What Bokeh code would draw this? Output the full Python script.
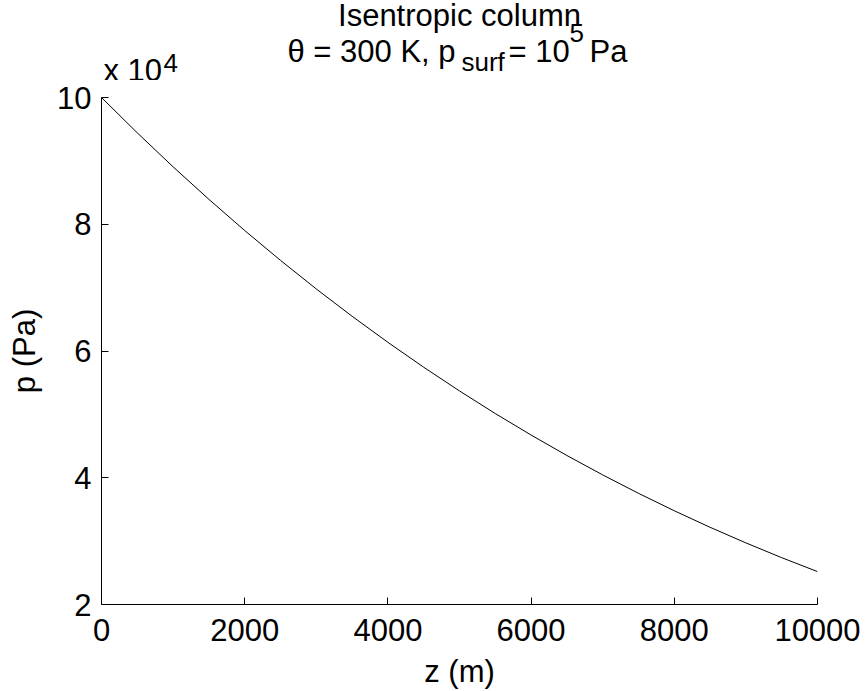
from bokeh.plotting import figure
from bokeh.models import Range1d, FixedTicker
from bokeh.layouts import column
from bokeh.core.properties import value
from bokeh.embed import file_html
from bokeh.resources import INLINE

# Data (height z in m, pressure p in Pa)
z_m = [0, 500, 1000, 1500, 2000, 2500, 3000, 3500, 4000, 4500, 5000,
       5500, 6000, 6500, 7000, 7500, 8000, 8500, 9000, 9500, 10000]
p_pa = [100000, 94420, 89060, 83930, 79010, 74300, 69790, 65480, 61370, 57440, 53700,
        50130, 46740, 43510, 40450, 37540, 34790, 32180, 29720, 27390, 25190]

x_ticks = [0, 2000, 4000, 6000, 8000, 10000]
y_ticks = [20000, 40000, 60000, 80000, 100000]
y_tick_labels = ["2", "4", "6", "8", "10"]

title_line1 = ["Isentropic column"]
title_main = ["\u03b8 = 300 K, p", "= 10", "Pa", "x 10"]
title_small = ["surf", "5", "4"]

FONT = "Liberation Sans"
FS = "31px"
FS_SMALL = "26px"

W = 867
TH = 80            # height of the title strip
L, R = 101, 817
FW = R - L
FH = 507

# ---- title strip (text laid out in canvas pixel coordinates) ----
pt = figure(frame_width=FW, frame_height=TH, output_backend="svg", toolbar_location=None,
            x_range=Range1d(L, R), y_range=Range1d(TH, 0),
            x_axis_location=None, y_axis_location=None,
            min_border_left=L, min_border_right=W - R, min_border_top=0, min_border_bottom=0)
pt.outline_line_color = None
pt.grid.visible = False
pt.text(x=[459], y=[15], text=title_line1, text_font=value(FONT), text_font_size=value(FS),
        text_color="black", text_align="center", text_baseline="alphabetic")
pt.text(x=[287, 508, 589, 103], y=[51, 51, 51, 70], text=title_main,
        text_font=value(FONT), text_font_size=value(FS), text_color="black",
        text_align="left", text_baseline="alphabetic")
pt.text(x=[461, 569, 163], y=[61, 32, 62], text=title_small,
        text_font=value(FONT), text_font_size=value(FS_SMALL), text_color="black",
        text_align="left", text_baseline="alphabetic")

# ---- main plot ----
p = figure(frame_width=FW, frame_height=FH, output_backend="svg", toolbar_location=None,
           x_range=Range1d(0, 10000), y_range=Range1d(20000, 100000),
           min_border_left=L, min_border_right=W - R, min_border_top=97 - TH, min_border_bottom=87)
p.outline_line_color = None
p.grid.visible = False
p.background_fill_color = "white"
p.border_fill_color = "white"

p.line(z_m, p_pa, line_color="black", line_width=1)

for ax in (p.xaxis[0], p.yaxis[0]):
    ax.axis_line_color = "black"
    ax.axis_line_width = 1
    ax.major_tick_line_color = "black"
    ax.major_tick_in = 7
    ax.major_tick_out = 0
    ax.minor_tick_line_color = None
    ax.major_label_text_font = FONT
    ax.major_label_text_font_size = FS
    ax.major_label_text_color = "black"
    ax.axis_label_text_font = FONT
    ax.axis_label_text_font_size = FS
    ax.axis_label_text_font_style = "normal"
    ax.axis_label_text_color = "black"

p.xaxis.ticker = FixedTicker(ticks=x_ticks)
p.yaxis.ticker = FixedTicker(ticks=y_ticks)
p.yaxis.major_label_overrides = {t: s for t, s in zip(y_ticks, y_tick_labels)}
p.xaxis.axis_label = "z (m)"
p.yaxis.axis_label = "p (Pa)"
p.xaxis.major_label_standoff = 14
p.yaxis.major_label_standoff = 10
p.xaxis.axis_label_standoff = 10
p.yaxis.axis_label_standoff = 12

layout = column(pt, p, spacing=0)
open("out.html", "w").write(file_html(layout, INLINE))
